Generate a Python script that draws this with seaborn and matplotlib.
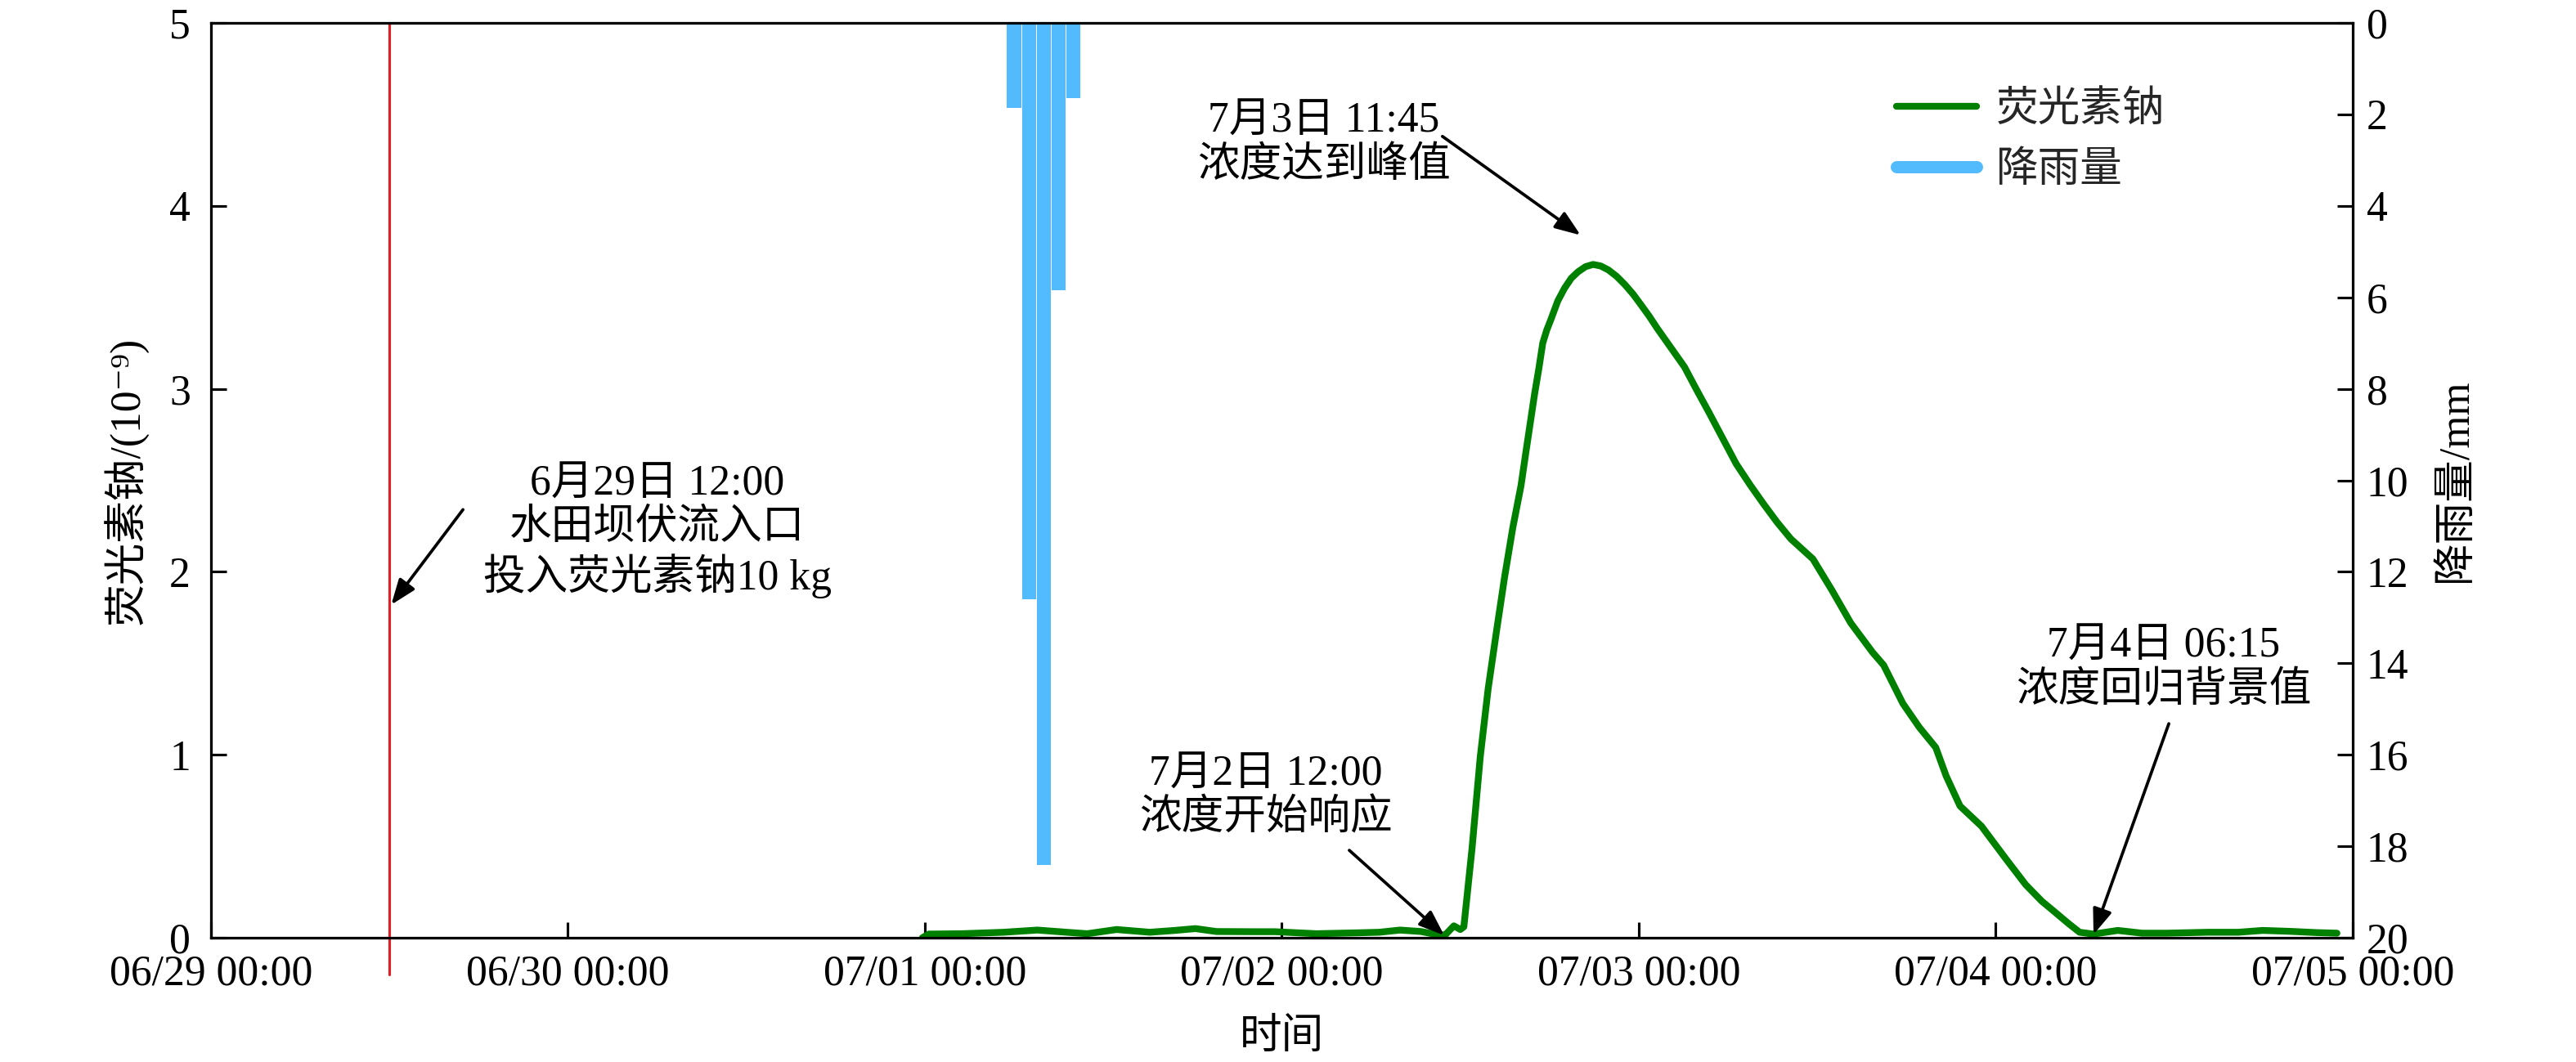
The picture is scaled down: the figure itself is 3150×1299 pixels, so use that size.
import numpy as np
import pandas as pd
import matplotlib
matplotlib.use("Agg")
import matplotlib.pyplot as plt
import matplotlib.dates as mdates
from matplotlib.lines import Line2D
import seaborn as sns

# ---------------- data ----------------
BASE = pd.Timestamp("2021-06-29 00:00")
X_START = "2021-06-29 00:00"
X_END = "2021-07-05 00:00"
tick_days = [0, 1, 2, 3, 4, 5, 6]

# fluorescein sodium concentration (1e-9); time as days since 06/29 00:00
conc_day = [1.993, 2.011, 2.104, 2.221, 2.315, 2.397, 2.455, 2.537, 2.630, 2.700,
            2.758, 2.817, 2.923, 2.981, 3.097, 3.214, 3.273, 3.331, 3.390, 3.448,
            3.460, 3.482, 3.500, 3.510, 3.533, 3.556, 3.578, 3.601, 3.624, 3.647,
            3.670, 3.685, 3.708, 3.720, 3.731, 3.742, 3.754, 3.773, 3.792, 3.811,
            3.830, 3.851, 3.872, 3.893, 3.915, 3.938, 3.961, 3.984, 4.006, 4.029,
            4.052, 4.090, 4.128, 4.162, 4.197, 4.235, 4.273, 4.312, 4.350, 4.388,
            4.426, 4.488, 4.541, 4.594, 4.655, 4.686, 4.740, 4.786, 4.832, 4.861,
            4.900, 4.960, 5.029, 5.084, 5.129, 5.166, 5.205, 5.235, 5.274, 5.342,
            5.410, 5.480, 5.594, 5.680, 5.748, 5.824, 5.900, 5.956]
conc_val = [0.000, 0.020, 0.022, 0.030, 0.042, 0.030, 0.022, 0.045, 0.030, 0.040,
            0.050, 0.034, 0.033, 0.033, 0.022, 0.027, 0.030, 0.042, 0.034, 0.012,
            0.020, 0.065, 0.045, 0.060, 0.490, 0.990, 1.360, 1.670, 1.970, 2.240,
            2.470, 2.670, 2.970, 3.110, 3.250, 3.320, 3.380, 3.480, 3.550, 3.605,
            3.640, 3.668, 3.680, 3.672, 3.650, 3.615, 3.570, 3.518, 3.460, 3.398,
            3.330, 3.225, 3.120, 2.995, 2.870, 2.730, 2.590, 2.475, 2.370, 2.270,
            2.180, 2.070, 1.900, 1.720, 1.560, 1.490, 1.280, 1.150, 1.040, 0.885,
            0.720, 0.610, 0.430, 0.290, 0.200, 0.140, 0.076, 0.030, 0.020, 0.040,
            0.025, 0.025, 0.030, 0.030, 0.040, 0.035, 0.028, 0.025]

# hourly rainfall (mm)
rain_time = ["2021-07-01 06:00", "2021-07-01 07:00", "2021-07-01 08:00",
             "2021-07-01 09:00", "2021-07-01 10:00"]
rain_mm = [1.85, 12.6, 18.4, 5.85, 1.65]

injection_time = "2021-06-29 12:00"

labels = {
    "conc": "荧光素钠",
    "rain": "降雨量",
    "ylabel": "荧光素钠/(10\u207b\u2079)",
    "y2label": "降雨量/mm",
    "xlabel": "时间",
}
notes = [
    # text, text pos (day, value), arrow start (day, value), arrow tip (day, value)
    ("6月29日 12:00\n水田坝伏流入口\n投入荧光素钠10 kg", (1.251, 2.22), (0.706, 2.34), (0.505, 1.82)),
    ("7月3日 11:45\n浓度达到峰值", (3.118, 4.34), (3.450, 4.38), (3.837, 3.84)),
    ("7月2日 12:00\n浓度开始响应", (2.955, 0.77), (3.189, 0.478), (3.455, 0.013)),
    ("7月4日 06:15\n浓度回归背景值", (5.471, 1.47), (5.485, 1.17), (5.274, 0.018)),
]

# ---------------- style ----------------
sns.set_theme(style="ticks")
plt.rcParams["font.family"] = ["Liberation Serif", "Noto Sans CJK SC", "DejaVu Serif"]
plt.rcParams["axes.unicode_minus"] = True
FS = 12.4
GREEN = "#008000"
BLUE = "#52BBFD"
RED = "#E01F26"

df = pd.DataFrame({"time": BASE + pd.to_timedelta(conc_day, unit="D"), "conc": conc_val})
rain_df = pd.DataFrame({"time": pd.to_datetime(rain_time), "rain": rain_mm})

fig = plt.figure(figsize=(10.5, 4.33), dpi=300)
ax = fig.add_axes([0.0819, 0.1170, 0.8314, 0.8614])
ax2 = ax.twinx()

sns.lineplot(data=df, x="time", y="conc", ax=ax, color=GREEN, lw=2.0,
             sort=False, estimator=None, legend=False)

ax2.bar(mdates.date2num(rain_df["time"]), rain_df["rain"], width=0.95 / 24,
        color=BLUE, edgecolor="none", align="center")
ax2.set_ylim(20, 0)
ax2.set_yticks(np.arange(0, 21, 2))

ax.set_xlim(pd.Timestamp(X_START), pd.Timestamp(X_END))
ax.set_ylim(0, 5)
ax.set_yticks([0, 1, 2, 3, 4, 5])
ax.set_xticks([BASE + pd.Timedelta(days=d) for d in tick_days])
ax.xaxis.set_major_formatter(mdates.DateFormatter("%m/%d %H:%M"))

ax.axvline(pd.Timestamp(injection_time), ymin=-0.04, ymax=1, color=RED, lw=0.75,
           clip_on=False)

for a in (ax, ax2):
    for s in a.spines.values():
        s.set_color("black")
        s.set_linewidth(0.75)
    a.grid(False)

ax.tick_params(axis="both", direction="in", length=4.5, width=0.75, labelsize=FS,
               colors="black", right=False, top=False)
ax.tick_params(axis="y", pad=6)
ax.tick_params(axis="x", pad=5)
ax2.tick_params(axis="y", direction="in", length=4.5, width=0.75, labelsize=FS,
                colors="black", pad=4)

ax.set_xlabel(labels["xlabel"], fontsize=FS, labelpad=7, color="black")
ax.set_ylabel(labels["ylabel"], fontsize=FS, labelpad=6, color="black")
ax2.set_ylabel(labels["y2label"], fontsize=FS, labelpad=8, color="black")

base_num = mdates.date2num(BASE)
for text, tpos, a0, a1 in notes:
    ax.text(base_num + tpos[0], tpos[1], text, ha="center", va="center",
            fontsize=FS, linespacing=1.15, color="black", zorder=5)
    ax.annotate("", xy=(base_num + a1[0], a1[1]), xytext=(base_num + a0[0], a0[1]),
                arrowprops=dict(arrowstyle="-|>,head_length=0.45,head_width=0.17",
                                color="black", lw=0.9, mutation_scale=14,
                                shrinkA=0, shrinkB=0), zorder=6)

handles = [Line2D([], [], color=GREEN, lw=2.0, solid_capstyle="round"),
           Line2D([], [], color=BLUE, lw=3.6, solid_capstyle="round")]
ax2.legend(handles, [labels["conc"], labels["rain"]], loc="upper left",
           bbox_to_anchor=(0.787, 0.926), frameon=False, fontsize=FS,
           handlelength=1.9, handletextpad=0.45, labelspacing=0.5,
           borderpad=0, borderaxespad=0)

fig.savefig("out.png", dpi=300)
